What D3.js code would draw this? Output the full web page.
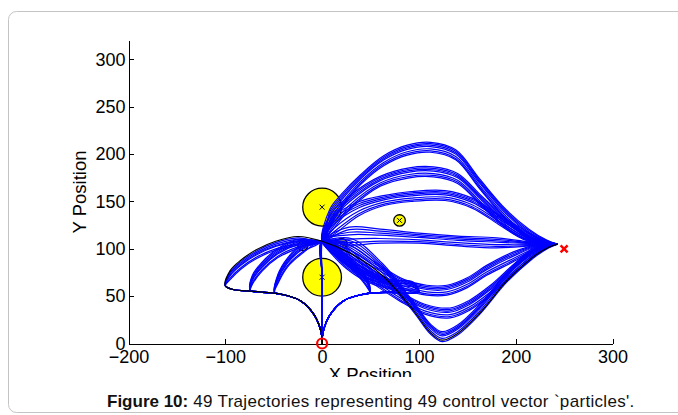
<!DOCTYPE html>
<html>
<head>
<meta charset="utf-8">
<script src="https://cdn.jsdelivr.net/npm/d3@7/dist/d3.min.js"></script>
<style>
    body { margin: 0; background: #fff; }
    svg { display: block; font-family: "Liberation Sans", Arial, Helvetica, sans-serif; }
</style>
</head>
<body>
<svg id="fig" width="678" height="415"></svg>
<script>
// tick values
var xTicks = [-200, -100, 0, 100, 200, 300];
var yTicks = [0, 50, 100, 150, 200, 250, 300];

// obstacles as [x, y, radius] in data units
var obstacles = [[0, 144, 20], [0, 70, 20], [80, 130, 6], [-20, 103, 5], [20, 105, 6]];
var startPt = [0, 0];
var targetPt = [250, 100];

// first leg: origin -> turn point -> hub (one per first control value)
var legOut = [
    [[0,0],[-1,12],[-8,30],[-22,45],[-42,52],[-70,55],[-92,57],[-100,61],[-95,71],[-84,82],[-68,93],[-48,102],[-25,107],[0,108]],
    [[0,0],[-1,12],[-8,30],[-22,45],[-42,52],[-62,54],[-74,56],[-72,66],[-62,80],[-46,94],[-25,104],[0,108]],
    [[0,0],[-1,12],[-8,30],[-22,45],[-38,51],[-49,54],[-46,66],[-36,84],[-20,99],[0,108]],
    [[0,0],[0,36],[0,72],[0,108]],
    [[0,0],[1,12],[8,30],[22,45],[38,51],[49,54],[47,62],[38,74],[22,90],[8,102],[0,108]],
    [[0,0],[1,12],[8,30],[22,45],[42,52],[62,54],[75,56],[70,61],[54,68],[34,80],[14,97],[0,108]],
    [[0,0],[1,12],[8,30],[22,45],[42,52],[70,54],[92,53],[100,55],[94,59],[72,61],[48,68],[26,82],[10,98],[0,108]]
];
// index of the turn point in each first leg
var turnAt = [7, 6, 5, 3, 5, 6, 7];

// second leg: hub -> lane -> end near the target (one per second control value)
var legIn = [
    [[0,108],[8,132],[20,150],[40,173],[64,193],[88,204],[112,207],[138,199],[163,168],[190,136],[214,115],[232,107],[243,105]],
    [[0,108],[10,128],[28,148],[60,171],[90,180],[115,181],[140,174],[165,150],[192,125],[216,110],[243,105]],
    [[0,108],[12,124],[38,142],[65,151],[92,155],[127,156],[155,148],[182,131],[208,115],[228,107],[243,105]],
    [[0,108],[28,113],[60,113],[100,111],[140,108],[180,106],[215,105],[243,105]],
    [[0,108],[25,96],[55,78],[85,62],[108,56],[129,56],[150,64],[170,77],[197,91],[222,102],[243,105]],
    [[0,108],[22,94],[50,72],[80,50],[106,36],[132,32],[152,40],[174,56],[205,84],[227,100],[243,105]],
    [[0,108],[30,101],[62,77],[94,39],[112,15],[124,7],[140,14],[163,36],[191,70],[218,95],[234,103],[243,105]]
];

// bundle spread (y, data units)
var laneSpread = [-3.5, 4, -1.5, 1, 5.5, -5, 2.5];   // per first leg, on the second leg
var armSpread = [3, -2, 4.5, 0.5, -3.5, 1.5, 6];     // per second leg, on the loop back
var best = [0, 6];                                    // trajectory drawn in black

var svg = d3.select("#fig");
var x = d3.scaleLinear().domain([-200, 300]).range([128.5, 612.5]);
var y = d3.scaleLinear().domain([0, 320]).range([343.5, 40.5]);

// figure frame
svg.append("rect")
    .attr("x", 8.5).attr("y", 11.5)
    .attr("width", 720).attr("height", 401)
    .attr("rx", 8)
    .style("fill", "none")
    .style("stroke", "#c4c4c4");

svg.append("clipPath").attr("id", "figclip")
    .append("rect").attr("x", 0).attr("y", 0).attr("width", 678).attr("height", 377);

var plot = svg.append("g").attr("clip-path", "url(#figclip)");

// obstacles
var obs = plot.append("g");
obstacles.forEach(function(o){
    var cx = x(o[0]), cy = y(o[1]);
    obs.append("ellipse")
        .attr("cx", cx).attr("cy", cy)
        .attr("rx", x(o[2]) - x(0)).attr("ry", y(0) - y(o[2]))
        .style("fill", "#ffff00")
        .style("stroke", "#000")
        .style("stroke-width", 1.3);
    obs.append("path")
        .attr("d", "M" + (cx - 2.5) + "," + (cy - 2.5) + "L" + (cx + 2.5) + "," + (cy + 2.5) +
                   "M" + (cx - 2.5) + "," + (cy + 2.5) + "L" + (cx + 2.5) + "," + (cy - 2.5))
        .style("stroke", "#000")
        .style("stroke-width", 1);
});

// build one trajectory from first leg i and second leg j
function trajectory(i, j){
    var a = legOut[i], b = legIn[j];
    var pts = [];
    a.forEach(function(p, m){
        var dy = (m > turnAt[i] && m < a.length - 1) ? armSpread[j] : 0;
        pts.push([p[0], p[1] + dy]);
    });
    b.forEach(function(p, m){
        if(m === 0) return;
        var n = b.length, w = 1;
        if(m === n - 1) w = 0;
        else if(m === n - 2) w = 0.4;
        else if(m === 1) w = 1.8;
        else if(m === 2) w = 1.4;
        pts.push([p[0], p[1] + laneSpread[i] * w]);
    });
    return pts;
}

var line = d3.line()
    .x(function(d){ return x(d[0]); })
    .y(function(d){ return y(d[1]); })
    .curve(d3.curveCatmullRom.alpha(0.5));

var trajs = plot.append("g");
for(var i = 0; i < legOut.length; i++){
    for(var j = 0; j < legIn.length; j++){
        if(i === best[0] && j === best[1]) continue;
        trajs.append("path")
            .attr("d", line(trajectory(i, j)))
            .style("fill", "none")
            .style("stroke", "#0000ff")
            .style("stroke-width", 1.2);
    }
}
trajs.append("path")
    .attr("d", line(trajectory(best[0], best[1])))
    .style("fill", "none")
    .style("stroke", "#000")
    .style("stroke-width", 1.2);

// axes, matlab style: ticks inside, no box
var xAxis = plot.append("g")
    .attr("transform", "translate(0," + y(0) + ")")
    .call(d3.axisBottom(x).tickValues(xTicks).tickSizeInner(-5).tickSizeOuter(0));
xAxis.selectAll("text").attr("y", 7).style("font-size", "18px").style("fill", "#000");

var yAxis = plot.append("g")
    .attr("transform", "translate(" + x(-200) + ",0)")
    .call(d3.axisLeft(y).tickValues(yTicks).tickSizeInner(-5).tickSizeOuter(0));
yAxis.selectAll("text").attr("x", -3).style("font-size", "18px").style("fill", "#000");

plot.selectAll(".domain, .tick line").style("stroke", "#000").style("shape-rendering", "crispEdges");
plot.selectAll(".tick text").style("font-family", "\"Liberation Sans\", Arial, sans-serif");

plot.append("text")
    .attr("x", (x(-200) + x(300)) / 2).attr("y", 381)
    .attr("text-anchor", "middle")
    .style("font-size", "18.5px")
    .text("X Position");

plot.append("text")
    .attr("transform", "translate(86," + (y(0) + y(320)) / 2 + ") rotate(-90)")
    .attr("text-anchor", "middle")
    .style("font-size", "18.5px")
    .text("Y Position");

// start and target markers
plot.append("circle")
    .attr("cx", x(startPt[0])).attr("cy", y(startPt[1]))
    .attr("r", 5)
    .style("fill", "none")
    .style("stroke", "#ff0000")
    .style("stroke-width", 2.2);

var tx = x(targetPt[0]), ty = y(targetPt[1]);
plot.append("path")
    .attr("d", "M" + (tx - 3.5) + "," + (ty - 3.5) + "L" + (tx + 3.5) + "," + (ty + 3.5) +
               "M" + (tx - 3.5) + "," + (ty + 3.5) + "L" + (tx + 3.5) + "," + (ty - 3.5))
    .style("stroke", "#ff0000")
    .style("stroke-width", 2.5);

// caption
var cap = svg.append("text")
    .attr("x", 107).attr("y", 407)
    .style("font-size", "17px")
    .style("fill", "#111");
cap.append("tspan").style("font-weight", "bold").text("Figure 10:");
cap.append("tspan")
    .attr("textLength", 446)
    .attr("lengthAdjust", "spacing")
    .text(" 49 Trajectories representing 49 control vector `particles'.");
</script>
</body>
</html>
